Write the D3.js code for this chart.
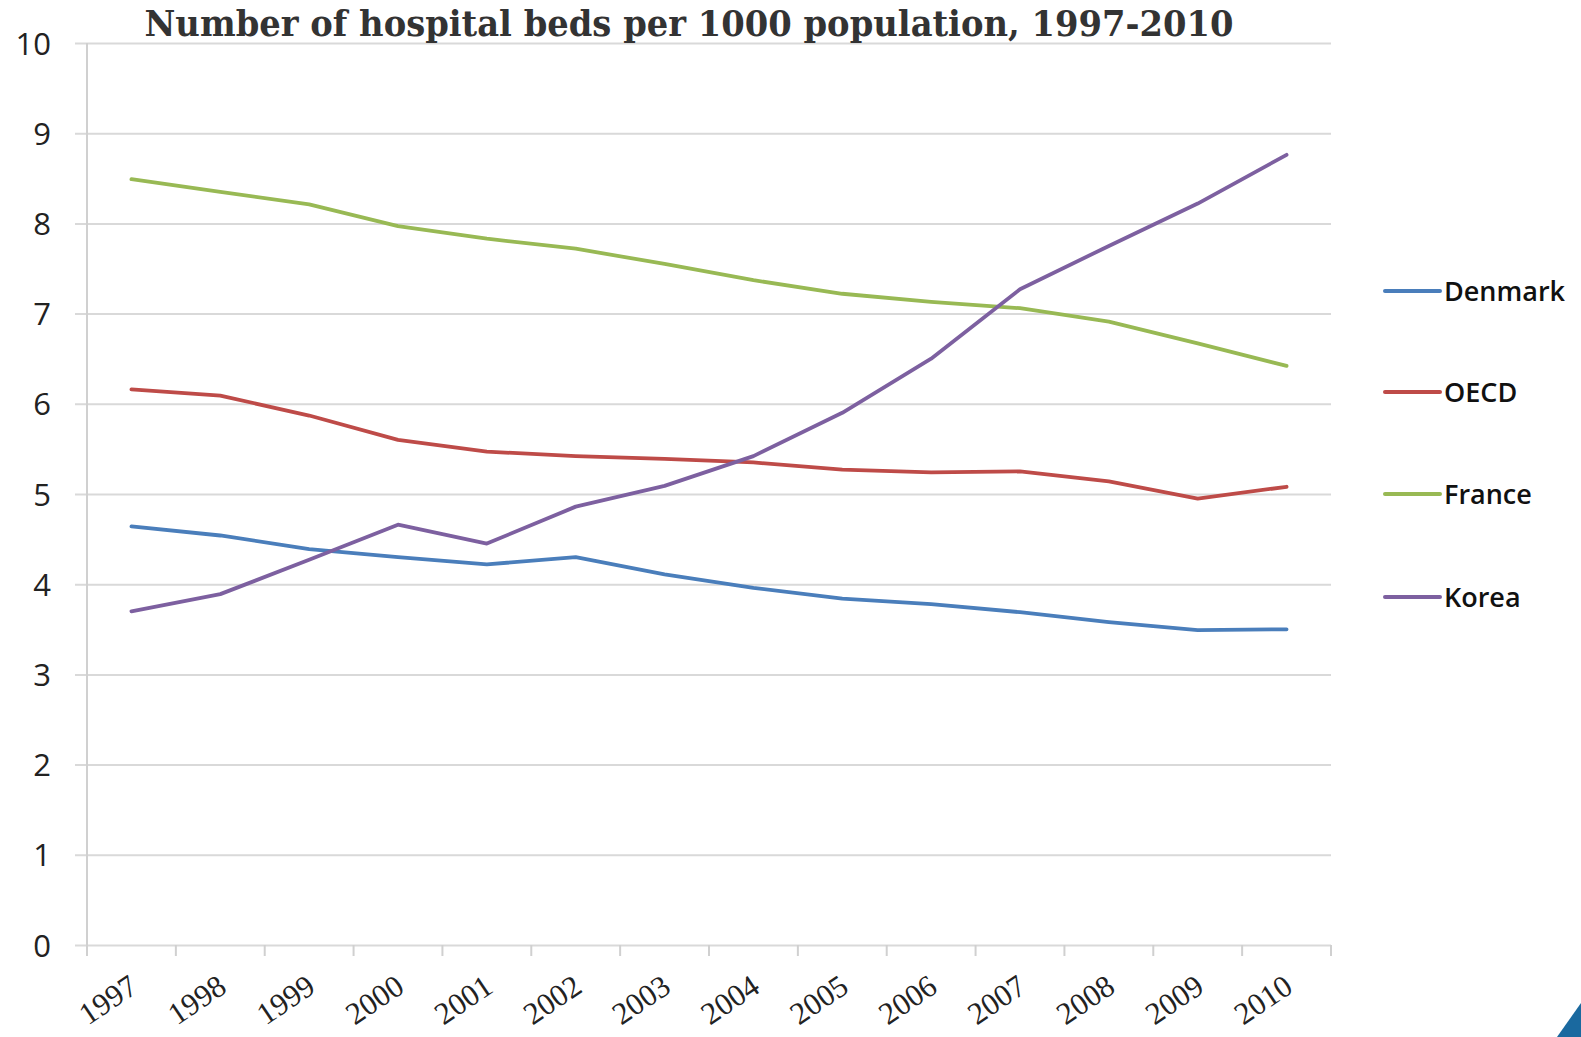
<!DOCTYPE html>
<html>
<head>
<meta charset="utf-8">
<script src="https://cdn.jsdelivr.net/npm/d3@7"></script>
<style>
  body { margin: 0; background: #fff; }
</style>
</head>
<body>
<div id="container"></div>
<script>
var width = 1581;
var height = 1037;

var years = ["1997", "1998", "1999", "2000", "2001", "2002", "2003", "2004", "2005", "2006", "2007", "2008", "2009", "2010"];
var yTicks = [0, 1, 2, 3, 4, 5, 6, 7, 8, 9, 10];

var denmark = [4.64, 4.54, 4.39, 4.30, 4.22, 4.30, 4.11, 3.96, 3.84, 3.78, 3.69, 3.58, 3.49, 3.50];
var oecd = [6.16, 6.09, 5.87, 5.60, 5.47, 5.42, 5.39, 5.35, 5.27, 5.24, 5.25, 5.14, 4.95, 5.08];
var france = [8.49, 8.35, 8.21, 7.97, 7.83, 7.72, 7.55, 7.37, 7.22, 7.13, 7.06, 6.91, 6.67, 6.42];
var korea = [3.70, 3.89, 4.27, 4.66, 4.45, 4.86, 5.09, 5.42, 5.90, 6.50, 7.27, 7.75, 8.22, 8.76];

var seriesNames = ["Denmark", "OECD", "France", "Korea"];
var seriesColors = ["#4a7ebb", "#be4b48", "#98b954", "#7d60a0"];
var seriesValues = [denmark, oecd, france, korea];

var plotLeft = 87, plotRight = 1331, plotTop = 43, plotBottom = 945;

var xScale = d3.scaleBand()
    .domain(years)
    .range([plotLeft, plotRight]);

var yScale = d3.scaleLinear()
    .domain([0, 10])
    .range([plotBottom, plotTop]);

var svg = d3.select("#container")
    .append("svg")
    .attr("width", width)
    .attr("height", height);

// gridlines + y labels
var yAxis = d3.axisLeft(yScale)
    .tickValues(yTicks)
    .tickSize(-(plotRight - plotLeft))
    .tickSizeOuter(0)
    .tickPadding(36);
var gy = svg.append("g")
    .attr("transform", "translate(" + plotLeft + ",0)")
    .call(yAxis);
gy.select(".domain").remove();
gy.selectAll(".tick line")
    .attr("x1", -12)
    .attr("stroke", "#d9d9d9")
    .attr("stroke-width", 2);
gy.selectAll(".tick text")
    .attr("font-family", "Open Sans, sans-serif")
    .attr("font-size", "31px")
    .attr("fill", "#222")
    .attr("dy", "0.36em");

// vertical axis line
svg.append("line")
    .attr("x1", plotLeft).attr("x2", plotLeft)
    .attr("y1", plotTop).attr("y2", plotBottom)
    .attr("stroke", "#d0d0d0")
    .attr("stroke-width", 2);

// x axis ticks at band edges
var edges = years.map(function (d) { return xScale(d); }).concat([plotRight]);
svg.selectAll(".xtick")
    .data(edges)
    .enter()
    .append("line")
    .attr("class", "xtick")
    .attr("x1", function (d) { return d; })
    .attr("x2", function (d) { return d; })
    .attr("y1", plotBottom)
    .attr("y2", plotBottom + 11)
    .attr("stroke", "#d0d0d0")
    .attr("stroke-width", 2);

// x labels, rotated
svg.selectAll(".xlabel")
    .data(years)
    .enter()
    .append("text")
    .attr("class", "xlabel")
    .attr("transform", function (d) {
        var x = xScale(d) + xScale.bandwidth() / 2 + 2;
        return "translate(" + x + "," + (plotBottom + 37) + ") rotate(-34)";
    })
    .attr("text-anchor", "end")
    .attr("dy", "0.35em")
    .attr("font-family", "Liberation Serif, serif")
    .attr("font-size", "31px")
    .attr("fill", "#222")
    .text(function (d) { return d; });

// lines
var line = d3.line()
    .x(function (d, i) { return xScale(years[i]) + xScale.bandwidth() / 2; })
    .y(function (d) { return yScale(d); });

svg.selectAll(".series")
    .data(seriesValues)
    .enter()
    .append("path")
    .attr("class", "series")
    .attr("d", line)
    .attr("fill", "none")
    .attr("stroke", function (d, i) { return seriesColors[i]; })
    .attr("stroke-width", 3.8)
    .attr("stroke-linejoin", "round")
    .attr("stroke-linecap", "round");

// legend
var legendY = [291, 392, 494, 597];
var legend = svg.selectAll(".legend")
    .data(seriesNames)
    .enter()
    .append("g")
    .attr("class", "legend")
    .attr("transform", function (d, i) { return "translate(1385," + legendY[i] + ")"; });

legend.append("line")
    .attr("x1", 0).attr("x2", 55)
    .attr("stroke", function (d, i) { return seriesColors[i]; })
    .attr("stroke-width", 4)
    .attr("stroke-linecap", "round");

legend.append("text")
    .attr("x", 59)
    .attr("dy", "0.36em")
    .attr("font-family", "Open Sans, sans-serif")
    .attr("font-weight", 600)
    .attr("font-size", "27px")
    .attr("fill", "#111")
    .text(function (d) { return d; });

// title
svg.append("text")
    .attr("x", 689)
    .attr("y", 36)
    .attr("text-anchor", "middle")
    .attr("font-family", "DejaVu Serif, serif")
    .attr("font-weight", "bold")
    .attr("font-size", "35px")
    .attr("fill", "#333")
    .attr("textLength", 1089)
    .attr("lengthAdjust", "spacingAndGlyphs")
    .text("Number of hospital beds per 1000 population, 1997-2010");

// slide decoration in corner
svg.append("path")
    .attr("d", "M1581,1003 L1581,1037 L1557,1037 Z")
    .attr("fill", "#1a699f");
</script>
</body>
</html>
